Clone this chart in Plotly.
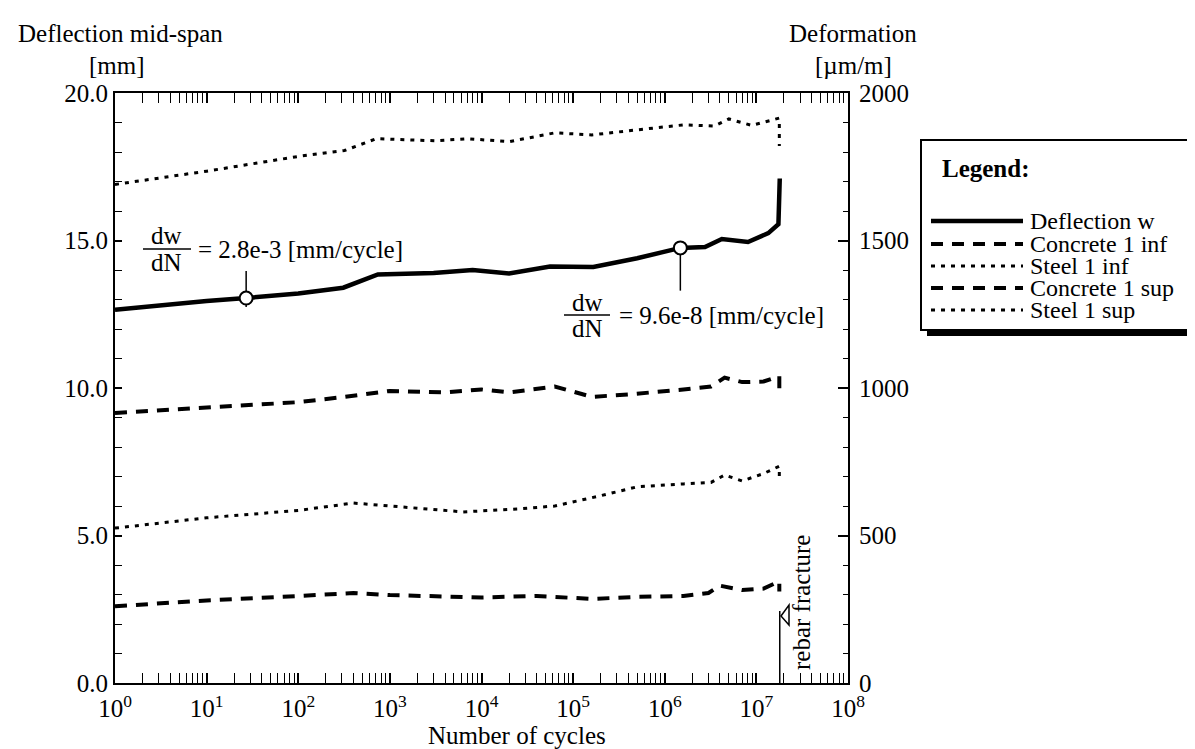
import plotly.graph_objects as go

# ---------------- data ----------------
# Deflection at mid-span [mm] vs number of cycles
defl_N = [1, 3, 10, 27, 100, 310, 740, 3000, 8000, 20000, 56000, 166000, 500000,
          1480000, 2750000, 4200000, 8100000, 13500000, 17400000, 18000000]
defl_w = [12.65, 12.8, 12.95, 13.05, 13.2, 13.4, 13.85, 13.9, 14.0, 13.88, 14.12, 14.1,
          14.4, 14.75, 14.78, 15.05, 14.95, 15.25, 15.55, 17.1]

# strains [um/m]
steel_inf_N = [1, 10, 100, 320, 710, 3200, 7100, 20000, 63000, 160000, 500000, 1600000,
               3500000, 5000000, 8900000, 15800000, 17800000, 17800000]
steel_inf_v = [1690, 1735, 1785, 1805, 1845, 1838, 1845, 1835, 1865, 1858, 1875, 1892,
               1888, 1912, 1890, 1910, 1915, 1820]

conc_sup_N = [1, 10, 100, 320, 1000, 4000, 10000, 20000, 63000, 160000, 400000, 1600000,
              3200000, 4500000, 7000000, 12000000, 17800000, 17800000]
conc_sup_v = [915, 935, 952, 970, 990, 985, 995, 985, 1005, 970, 978, 995, 1005, 1035,
              1020, 1022, 1040, 975]

steel_sup_N = [1, 10, 100, 400, 1600, 6300, 25000, 63000, 200000, 500000, 1600000,
               3200000, 4500000, 7000000, 12000000, 17800000, 17800000]
steel_sup_v = [525, 560, 585, 610, 595, 580, 590, 600, 635, 665, 675, 680, 705, 685, 710,
               735, 700]

conc_inf_N = [1, 10, 100, 400, 1000, 10000, 40000, 160000, 500000, 1600000, 3000000,
              4000000, 7000000, 12000000, 17800000, 17800000]
conc_inf_v = [260, 280, 295, 305, 298, 290, 295, 285, 292, 295, 305, 330, 315, 320, 345, 310]

# slope markers on the deflection curve
mark_N = [27, 1480000]
mark_w = [13.05, 14.75]
mark_top = [13.97, 14.75]
mark_bot = [12.75, 13.3]

fracture_N = 18000000
fracture_top = 2.44

x_tickvals = [10 ** k for k in range(9)]
x_ticktext = ["10<sup>%d</sup>" % k for k in range(9)]
x_minor = [m * 10 ** k for k in range(8) for m in range(2, 10)]
y_tickvals = [0, 5, 10, 15, 20]
y_ticktext = ["0.0", "5.0", "10.0", "15.0", "20.0"]
y2_tickvals = [0, 500, 1000, 1500, 2000]
y2_ticktext = ["0", "500", "1000", "1500", "2000"]

legend_items = [("Deflection w", "solid", 4.5),
                ("Concrete 1 inf", "12px,9px", 4),
                ("Steel 1 inf", "4px,6px", 3),
                ("Concrete 1 sup", "12px,9px", 4),
                ("Steel 1 sup", "4px,6px", 3)]

# ---------------- layout helpers (pixel -> paper) ----------------
W, H = 1195, 749
L, R, T, B = 107, 840, 85, 675
def px(x):
    return (x - L) / (R - L)
def py(y):
    return (B - y) / (B - T)

FONT = "Liberation Serif"
DASH = "12px,9px"
DOT = "4px,6px"

fig = go.Figure()

fig.add_trace(go.Scatter(x=steel_inf_N, y=steel_inf_v, yaxis="y2", mode="lines",
                         line=dict(color="black", width=3, dash=DOT), name="Steel 1 inf"))
fig.add_trace(go.Scatter(x=conc_sup_N, y=conc_sup_v, yaxis="y2", mode="lines",
                         line=dict(color="black", width=4, dash=DASH), name="Concrete 1 sup"))
fig.add_trace(go.Scatter(x=steel_sup_N, y=steel_sup_v, yaxis="y2", mode="lines",
                         line=dict(color="black", width=3, dash=DOT), name="Steel 1 sup"))
fig.add_trace(go.Scatter(x=conc_inf_N, y=conc_inf_v, yaxis="y2", mode="lines",
                         line=dict(color="black", width=4, dash=DASH), name="Concrete 1 inf"))
fig.add_trace(go.Scatter(x=defl_N, y=defl_w, mode="lines",
                         line=dict(color="black", width=4.5), name="Deflection w"))

for n, t, b in zip(mark_N, mark_top, mark_bot):
    fig.add_trace(go.Scatter(x=[n, n], y=[b, t], mode="lines",
                             line=dict(color="black", width=1.5), showlegend=False))
fig.add_trace(go.Scatter(x=mark_N, y=mark_w, mode="markers",
                         marker=dict(size=13, color="white", line=dict(color="black", width=2)),
                         showlegend=False))
fig.add_trace(go.Scatter(x=[fracture_N, fracture_N], y=[0, fracture_top], mode="lines",
                         line=dict(color="black", width=1.5), showlegend=False))

axis_common = dict(showline=True, linecolor="black", linewidth=2, showgrid=False,
                   zeroline=False, ticks="inside", tickcolor="black",
                   tickfont=dict(family=FONT, size=25, color="black"))

fig.update_layout(
    width=W, height=H,
    margin=dict(l=L, r=W - R, t=T, b=H - B),
    paper_bgcolor="white", plot_bgcolor="white",
    showlegend=False,
    font=dict(family=FONT, size=25, color="black"),
    xaxis=dict(type="log", range=[0, 8], tickmode="array", tickvals=x_tickvals,
               ticktext=x_ticktext, ticklen=10, tickwidth=1.5, mirror="allticks",
               minor=dict(tickmode="array", tickvals=x_minor, ticks="inside",
                          ticklen=5, tickwidth=1.2, tickcolor="black"),
               ticklabelstandoff=2,
               **axis_common),
    yaxis=dict(range=[0, 20], tickmode="array", tickvals=y_tickvals, ticktext=y_ticktext,
               ticklen=7, tickwidth=1.5,
               minor=dict(tickmode="array", tickvals=list(range(1, 20)), ticks="inside",
                          ticklen=7, tickwidth=1.2, tickcolor="black"),
               **axis_common),
    yaxis2=dict(range=[0, 2000], overlaying="y", side="right", tickmode="array",
                tickvals=y2_tickvals, ticktext=y2_ticktext, ticklen=10, tickwidth=1.5,
                minor=dict(tickmode="array", tickvals=list(range(100, 2000, 100)),
                           ticks="inside", ticklen=5, tickwidth=1.2, tickcolor="black"),
                ticklabelstandoff=4,
                **axis_common),
)

ann = []
def text(x, y, s, xanchor="center", size=25, bold=False, angle=0):
    ann.append(dict(x=px(x), y=py(y), xref="paper", yref="paper", text=("<b>%s</b>" % s) if bold else s,
                    showarrow=False, xanchor=xanchor, yanchor="middle", textangle=angle,
                    font=dict(family=FONT, size=size, color="black")))

text(112, 25, "Deflection mid-span")
text(109, 58, "[mm]")
text(845, 25, "Deformation")
text(845, 57, "[µm/m]")
text(509, 727, "Number of cycles")

# slope annotations
text(158, 228, "dw")
text(158, 254, "dN")
text(188, 241, "= 2.8e-3 [mm/cycle]", xanchor="left")
text(579, 294, "dw")
text(579, 320, "dN")
text(609, 307, "= 9.6e-8 [mm/cycle]", xanchor="left")
text(793, 595, "rebar fracture", angle=-90)

shapes = []
def hline(x0, x1, y, width=1.5, dash="solid"):
    shapes.append(dict(type="line", xref="paper", yref="paper", x0=px(x0), x1=px(x1),
                       y0=py(y), y1=py(y), line=dict(color="black", width=width, dash=dash)))

hline(135, 183, 241)
hline(556, 602, 307)

# arrow head at rebar fracture
shapes.append(dict(type="path", xref="paper", yref="paper",
                   path="M %f,%f L %f,%f L %f,%f Z" % (px(773), py(608), px(781), py(597),
                                                       px(781), py(617)),
                   line=dict(color="black", width=1.5), fillcolor="white"))

# legend box with drop shadow
bx0, by0, bx1, by1 = 913, 132, 1181, 322
shapes.append(dict(type="rect", xref="paper", yref="paper", x0=px(bx0 + 6), x1=px(bx1 + 6),
                   y0=py(by0 + 6), y1=py(by1 + 6), fillcolor="black", line=dict(width=0)))
shapes.append(dict(type="rect", xref="paper", yref="paper", x0=px(bx0), x1=px(bx1),
                   y0=py(by0), y1=py(by1), fillcolor="white",
                   line=dict(color="black", width=2)))
text(932, 160, "Legend:", xanchor="left", bold=True)
row_y = [213, 236, 258, 280, 302]
for (name, dash, w), yy in zip(legend_items, row_y):
    hline(923, 1015, yy, width=w, dash=dash)
    text(1020, yy, name, xanchor="left", size=24)

fig.update_layout(annotations=ann, shapes=shapes)
fig.write_html("out.html")
